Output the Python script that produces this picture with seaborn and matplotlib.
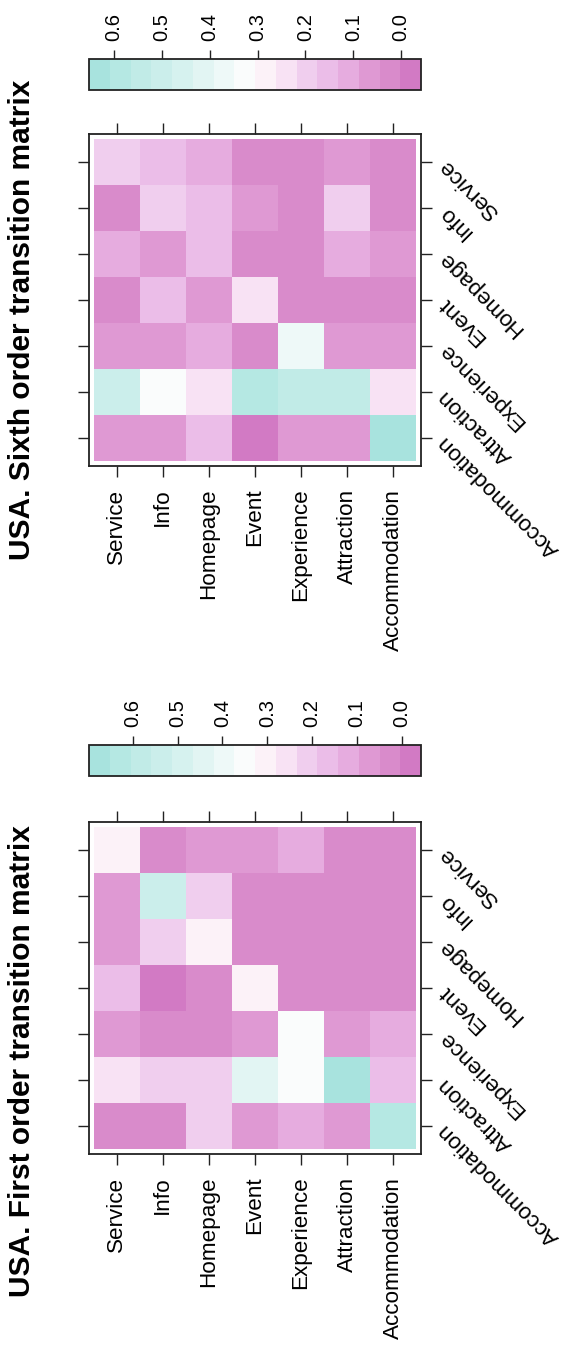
import numpy as np
import pandas as pd
import matplotlib
matplotlib.use("Agg")
import matplotlib.pyplot as plt
import seaborn as sns
from matplotlib.colors import ListedColormap

# ---------------- data ----------------
states = ["Service", "Info", "Homepage", "Event", "Experience", "Attraction", "Accommodation"]

# rows: vertical axis of the picture (top -> bottom), columns: horizontal axis (left -> right)
first_order = [
    [0.305, 0.027, 0.073, 0.073, 0.118, 0.027, 0.027],
    [0.080, 0.535, 0.210, 0.027, 0.027, 0.045, 0.027],
    [0.062, 0.210, 0.310, 0.027, 0.027, 0.045, 0.027],
    [0.165, 0.003, 0.030, 0.300, 0.027, 0.027, 0.027],
    [0.065, 0.045, 0.040, 0.073, 0.350, 0.065, 0.118],
    [0.255, 0.205, 0.205, 0.440, 0.350, 0.652, 0.165],
    [0.030, 0.035, 0.210, 0.073, 0.105, 0.073, 0.625],
]

sixth_order = [
    [0.200, 0.150, 0.110, 0.025, 0.025, 0.065, 0.025],
    [0.040, 0.200, 0.150, 0.065, 0.025, 0.190, 0.030],
    [0.100, 0.060, 0.150, 0.025, 0.025, 0.110, 0.065],
    [0.020, 0.145, 0.060, 0.240, 0.025, 0.025, 0.025],
    [0.060, 0.060, 0.100, 0.030, 0.370, 0.065, 0.065],
    [0.500, 0.330, 0.240, 0.580, 0.540, 0.540, 0.230],
    [0.060, 0.060, 0.150, 0.001, 0.060, 0.060, 0.610],
]

cbar_ticks = [0.0, 0.1, 0.2, 0.3, 0.4, 0.5, 0.6]
titles = ["USA. First order transition matrix", "USA. Sixth order transition matrix"]

# ---------------- style ----------------
sns.set_theme(style="white")
plt.rcParams["font.family"] = ["Liberation Sans", "DejaVu Sans"]
plt.rcParams["text.color"] = "black"
plt.rcParams["xtick.color"] = "black"
plt.rcParams["ytick.color"] = "black"
plt.rcParams["xtick.labelcolor"] = "black"
plt.rcParams["ytick.labelcolor"] = "black"

# 16 discrete levels, low (magenta) -> high (cyan)
level_colors = [
    "#D27AC4", "#D98BCB", "#DF99D3", "#E6ACDF", "#EBBDE8", "#F0CEEE",
    "#F8E2F4", "#FCF2F8", "#FAFCFC", "#EEF9F8", "#E2F5F3", "#D6F2EF",
    "#CBEEEB", "#C1EBE7", "#B5E8E3", "#A8E3DE",
]
cmap = ListedColormap(level_colors)

W, H = 562, 1346
fig = plt.figure(figsize=(W / 100, H / 100), dpi=100)


def rect(x0, y0, x1, y1):
    return [x0 / W, 1 - y1 / H, (x1 - x0) / W, (y1 - y0) / H]


def zrange(m):
    a = np.asarray(m, dtype=float)
    mn, mx = a.min(), a.max()
    pad = 0.07 * (mx - mn)
    return mn - pad, mx + pad


panels = [
    (first_order, titles[0], (89, 822, 421, 1154), (89, 745, 421, 776), 1297, "bottom"),
    (sixth_order, titles[1], (89, 134, 421, 466), (89, 59, 421, 90), 80, "top"),
]

edge = "#222222"
for mat, title, hrect, crect, ty, tva in panels:
    ax = fig.add_axes(rect(*hrect))
    cax = fig.add_axes(rect(*crect))
    lo, hi = zrange(mat)
    df = pd.DataFrame(mat, index=states, columns=states)
    sns.heatmap(df, ax=ax, cmap=cmap, vmin=lo, vmax=hi, cbar=True, cbar_ax=cax,
                cbar_kws=dict(orientation="horizontal"), linewidths=0)
    n = len(states)
    ax.set_xlim(-0.1, n + 0.1)
    ax.set_ylim(n + 0.1, -0.1)
    for sp in ax.spines.values():
        sp.set_visible(True)
        sp.set_linewidth(1.3)
        sp.set_color(edge)

    ax.set_xticks(np.arange(n) + 0.5)
    ax.set_yticks(np.arange(n) + 0.5)
    ax.set_xticklabels(states, rotation=90, fontsize=16.2, ha="center", va="top", color="black")
    ax.set_yticklabels(states, fontsize=16.2, color="black")
    ax.tick_params(axis="both", direction="out", length=7.8, width=1.0, color=edge,
                   top=True, bottom=True, left=True, right=True,
                   labeltop=False, labelbottom=True, labelleft=False, labelright=True)
    ax.tick_params(axis="x", pad=8.5)
    ax.tick_params(axis="y", pad=7)
    for t in ax.yaxis.get_major_ticks():
        t.label2.set_rotation(135)
        t.label2.set_rotation_mode("anchor")
        t.label2.set_ha("right")
        t.label2.set_va("center")
        t.label2.set_fontsize(16.2)
        t.label2.set_color("black")
    ax.set_xlabel("")
    ax.set_ylabel("")

    cb = ax.collections[0].colorbar
    cb.set_ticks(cbar_ticks)
    cb.set_ticklabels([f"{v:.1f}" for v in cbar_ticks])
    cb.outline.set_linewidth(1.3)
    cb.outline.set_edgecolor(edge)
    cax.invert_xaxis()
    cax.xaxis.set_ticks_position("top")
    cax.tick_params(axis="x", direction="out", length=6.3, width=1.0, color=edge,
                    pad=7, labelsize=14.5, labelrotation=90, top=True, bottom=False,
                    labeltop=True, labelbottom=False, labelcolor="black")

    fig.text(22.5 / W, 1 - ty / H, title, rotation=90, ha="center", va=tva,
             fontsize=21.5, fontweight="bold", color="black")

fig.savefig("out.png", dpi=100)
